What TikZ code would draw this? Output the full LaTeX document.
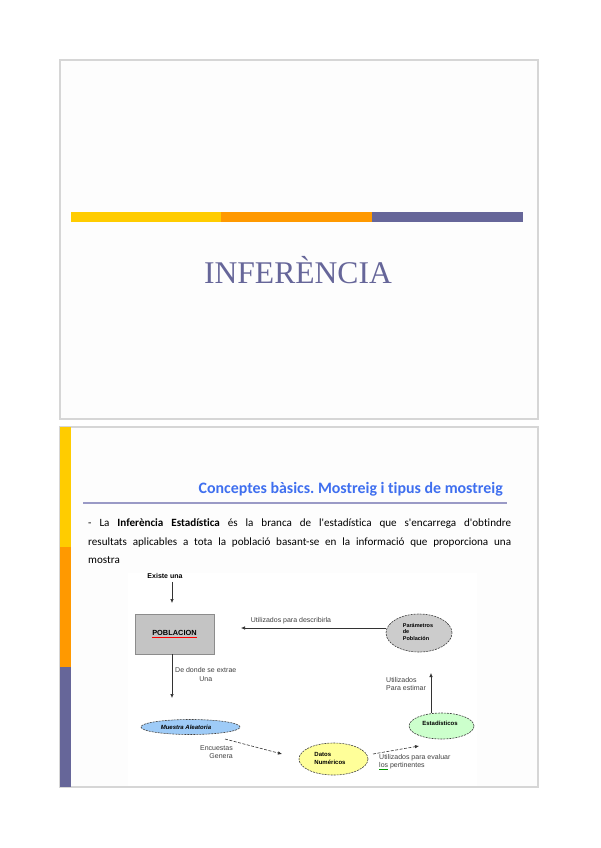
\documentclass[tikz,border=0pt]{standalone}
\usepackage{fontspec}
\setmainfont{Liberation Serif}
\newfontfamily\calibrifont[Ligatures=NoCommon]{Carlito}
\newfontfamily\arialfont{Liberation Sans}
\usetikzlibrary{shapes.geometric,arrows.meta}
\frenchspacing
\definecolor{barY}{HTML}{FFCC00}
\definecolor{barO}{HTML}{FF9900}
\definecolor{barP}{HTML}{666699}
\definecolor{ttlBlue}{HTML}{3F6FEF}
\definecolor{frameG}{HTML}{D6D6D6}
\definecolor{lineP}{HTML}{9A9AC6}
\definecolor{slideBg}{HTML}{FDFDFD}
\definecolor{pobGray}{HTML}{C4C4C4}
\definecolor{parGray}{HTML}{CCCCCC}
\definecolor{muBlue}{HTML}{9ECBF7}
\definecolor{datYel}{HTML}{FFFF99}
\definecolor{estGreen}{HTML}{CCFFCC}
\tikzset{
  slideframe/.style={draw=frameG, line width=1.3pt, fill=slideBg},
  dlabel/.style={font=\arialfont\fontsize{7}{8.5}\selectfont, inner sep=0pt, text=black!75},
  dbold/.style={font=\arialfont\bfseries\fontsize{6.5}{7.5}\selectfont, inner sep=0pt},
  oval/.style={ellipse, draw=black!75, dash pattern=on 2pt off 1pt, line width=0.6pt, inner sep=0pt},
  arr/.style={-{Latex[length=4pt,width=3.5pt]}, line width=0.6pt, black!80},
  darr/.style={arr, dash pattern=on 3pt off 1.5pt},
}
\begin{document}
\begin{tikzpicture}[x=1pt,y=-1pt]
\useasboundingbox (0,0) rectangle (600,848);
\fill[white] (0,0) rectangle (600,848);

% ---------- slide 1 ----------
\draw[slideframe] (60,60) rectangle (538,419);
\fill[barY] (71,212) rectangle (221,222);
\fill[barO] (221,212) rectangle (372,222);
\fill[barP] (372,212) rectangle (523,222);
\node[font=\fontsize{31.6}{36}\selectfont, text=barP, anchor=base, inner sep=0pt] (title) at (298,283) {INFERÈNCIA};

% ---------- slide 2 ----------
\draw[slideframe] (60,427) rectangle (538,787);
\fill[barY] (60,427) rectangle (71,547);
\fill[barO] (60,547) rectangle (71,667);
\fill[barP] (60,667) rectangle (71,787);
\node[font=\calibrifont\bfseries\fontsize{15.9}{18}\selectfont, text=ttlBlue, anchor=base east, inner sep=0pt] (sub) at (503,493) {Conceptes bàsics. Mostreig i tipus de mostreig};
\draw[lineP, line width=1.3pt] (83,503) -- (507,503);
\node[anchor=north west, inner sep=0pt, text width=423pt, align=justify,
      font=\calibrifont\fontsize{11.1}{18.5}\selectfont] (body) at (88,519)
  {- La \textbf{Inferència Estadística} és la branca de l'estadística que s'encarrega d'obtindre\linebreak
   resultats aplicables a tota la població basant-se en la informació que proporciona una\linebreak
   mostra};

% diagram picture area
\fill[white] (128,573) rectangle (477,786);

% nodes
\node[dbold, font=\arialfont\bfseries\fontsize{7}{8}\selectfont] (existe) at (165,576) {Existe una};
\node[draw=black!45, fill=pobGray, minimum width=79pt, minimum height=40pt, inner sep=0pt,
      font=\arialfont\bfseries\fontsize{7.4}{8}\selectfont] (pob) at (174.5,634)
  {\textcolor{red}{\underline{\textcolor{black}{POBLACION}}}};
\node[oval, fill=parGray, minimum width=66pt, minimum height=38pt] (par) at (419,633) {};
\node[dbold, align=left, font=\arialfont\bfseries\fontsize{5.5}{6.6}\selectfont] (partxt) at (418,632) {Parámetros\\de\\Población};
\node[oval, fill=muBlue, minimum width=99pt, minimum height=15pt] (mue) at (190.5,727) {};
\node[dbold, font=\arialfont\bfseries\itshape\fontsize{6}{7}\selectfont] (muetxt) at (186,727) {Muestra Aleatoria};
\node[oval, fill=datYel, minimum width=69pt, minimum height=32pt] (dat) at (333.5,759) {};
\node[dbold, align=left, font=\arialfont\bfseries\fontsize{6}{8}\selectfont] (dattxt) at (330,758) {Datos\\Numéricos};
\node[oval, fill=estGreen, minimum width=65pt, minimum height=26pt] (est) at (441.5,726) {};
\node[dbold, font=\arialfont\bfseries\fontsize{6}{7}\selectfont] (esttxt) at (440,723) {Estadísticos};

% coordinates for free arrow ends
\coordinate (c1) at (172,603);
\coordinate (c2) at (241,628);
\coordinate (c3) at (172,698);
\coordinate (c4a) at (225,739);
\coordinate (c4b) at (282,754);
\coordinate (c5a) at (373,754);
\coordinate (c5b) at (419,746);
\coordinate (c6) at (431,673);

% connectors
\draw[arr] (existe.south -| c1) ++(0,3) -- (c1);
\draw[arr] (par.west |- c2) -- (c2);
\draw[arr] (pob.south -| c3) -- (c3);
\draw[darr] (c4a) -- (c4b);
\draw[darr] (c5a) -- (c5b);
\draw[arr] (est.north -| c6) -- (c6);

% labels
\node[dlabel, anchor=base] (l1) at (291,622) {Utilizados para describirla};
\node[dlabel, align=center, anchor=west] (l2) at (175,674.5) {De donde se extrae\\Una};
\node[dlabel, align=right, anchor=north east] (l3) at (233,745) {Encuestas\\Genera};
\node[dlabel, align=left, anchor=north west] (l4) at (379,754) {Utilizados para evaluar\\\textcolor{green!60!black}{\underline{\textcolor{black!75}{los}}} pertinentes};
\node[dlabel, align=left, anchor=north west] (l5) at (386,677) {Utilizados\\Para estimar};
\end{tikzpicture}
\end{document}
